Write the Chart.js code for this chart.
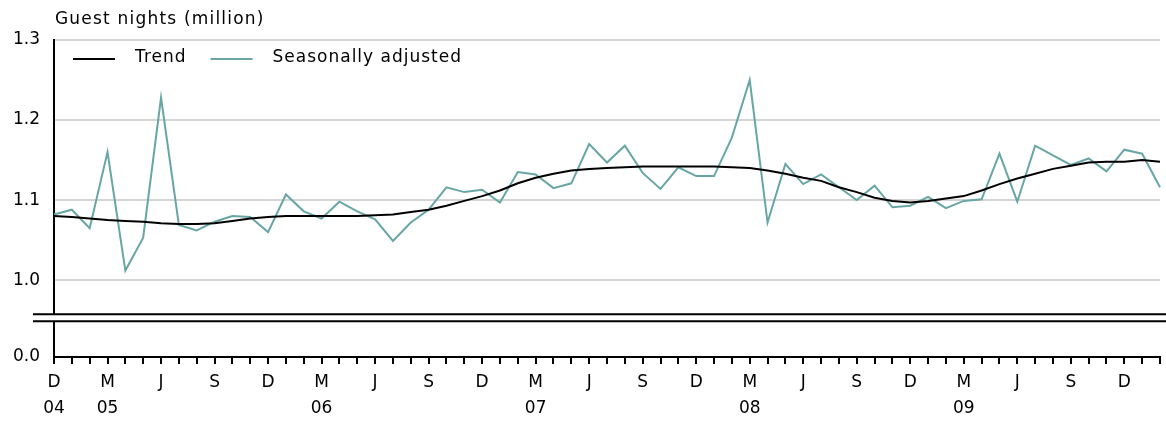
<!DOCTYPE html>
<html>
<head>
<meta charset="utf-8">
<script src="https://cdn.jsdelivr.net/npm/chart.js@4.4.1/dist/chart.umd.min.js"></script>
<style>
  body { margin: 0; background: #fff; }
  #wrap { width: 1166px; height: 421px; }
</style>
</head>
<body>
<div id="wrap"><canvas id="guests"></canvas></div>
<script>
const titleText = "Guest nights (million)";

const categories = [
  "2004-12",
  "2005-01", "2005-02", "2005-03", "2005-04", "2005-05", "2005-06", "2005-07", "2005-08", "2005-09", "2005-10", "2005-11", "2005-12",
  "2006-01", "2006-02", "2006-03", "2006-04", "2006-05", "2006-06", "2006-07", "2006-08", "2006-09", "2006-10", "2006-11", "2006-12",
  "2007-01", "2007-02", "2007-03", "2007-04", "2007-05", "2007-06", "2007-07", "2007-08", "2007-09", "2007-10", "2007-11", "2007-12",
  "2008-01", "2008-02", "2008-03", "2008-04", "2008-05", "2008-06", "2008-07", "2008-08", "2008-09", "2008-10", "2008-11", "2008-12",
  "2009-01", "2009-02", "2009-03", "2009-04", "2009-05", "2009-06", "2009-07", "2009-08", "2009-09", "2009-10", "2009-11", "2009-12",
  "2010-01", "2010-02"
];

const trend = [
  1.080, 1.079, 1.077, 1.075, 1.074, 1.073, 1.071, 1.070, 1.070, 1.071, 1.074, 1.077, 1.079, 1.080, 1.080, 1.080, 1.080, 1.080, 1.081, 1.082, 1.085,
  1.088, 1.093, 1.099, 1.105, 1.112, 1.121, 1.128, 1.133, 1.137, 1.139, 1.140, 1.141, 1.142, 1.142, 1.142, 1.142, 1.142, 1.141, 1.140, 1.137, 1.133,
  1.128, 1.124, 1.116, 1.110, 1.103, 1.099, 1.097, 1.099, 1.102, 1.105, 1.112, 1.120, 1.127, 1.133, 1.139, 1.143, 1.147, 1.148, 1.148, 1.150, 1.148
];

const seasonallyAdjusted = [
  1.082, 1.088, 1.065, 1.160, 1.012, 1.053, 1.228, 1.069, 1.062, 1.073, 1.080, 1.079, 1.060, 1.107, 1.086, 1.077, 1.098, 1.086, 1.076, 1.049, 1.072,
  1.088, 1.116, 1.110, 1.113, 1.097, 1.135, 1.132, 1.115, 1.121, 1.170, 1.147, 1.168, 1.134, 1.114, 1.141, 1.130, 1.130, 1.178, 1.250, 1.072, 1.145,
  1.120, 1.132, 1.116, 1.100, 1.118, 1.091, 1.093, 1.104, 1.090, 1.099, 1.101, 1.158, 1.098, 1.168, 1.156, 1.144, 1.152, 1.136, 1.163, 1.158, 1.116
];

// y axis: 1.0-1.3 shown, bottom of axis stands for 0.0 (broken axis)
const yTicks = [1.0, 1.1, 1.2, 1.3];
const yMin = 0.904, yMax = 1.3;
const breakHigh = 0.9575, breakLow = 0.94875;

const monthLetter = { "12": "D", "03": "M", "06": "J", "09": "S" };
const teal = "rgb(104,166,166)";
const font = { family: "DejaVu Sans", size: 17, lineHeight: 1.5 };

// title, legend inside the plot, and the axis break marks
const extras = {
  id: "extras",
  afterDraw(chart) {
    const { ctx, chartArea, scales } = chart;
    ctx.save();
    ctx.fillStyle = "#000";
    ctx.font = "17px 'DejaVu Sans'";
    ctx.textBaseline = "middle";
    ctx.letterSpacing = "1.2px";
    ctx.fillText(titleText, chartArea.left + 1, 20);

    // legend
    ctx.letterSpacing = "1px";
    let x = chartArea.left + 19;
    const ly = chartArea.top + 19;
    chart.data.datasets.forEach((ds) => {
      ctx.strokeStyle = ds.borderColor;
      ctx.lineWidth = 2;
      ctx.beginPath();
      ctx.moveTo(x, ly);
      ctx.lineTo(x + 42, ly);
      ctx.stroke();
      x += 42 + 20;
      ctx.fillText(ds.label, x, ly - 1);
      x += ctx.measureText(ds.label).width + 24;
    });

    // break
    const yTop = scales.y.getPixelForValue(breakHigh);
    const yBot = scales.y.getPixelForValue(breakLow);
    ctx.fillStyle = "#fff";
    ctx.fillRect(33, yTop, chart.width, yBot - yTop);
    ctx.strokeStyle = "#000";
    ctx.lineWidth = 2;
    ctx.beginPath();
    ctx.moveTo(33, yTop); ctx.lineTo(chart.width, yTop);
    ctx.moveTo(33, yBot); ctx.lineTo(chart.width, yBot);
    ctx.stroke();
    ctx.restore();
  }
};

new Chart(document.getElementById("guests"), {
  type: "line",
  data: {
    labels: categories,
    datasets: [
      {
        label: "Trend",
        data: trend,
        borderColor: "#000",
        borderWidth: 2,
        pointRadius: 0,
        tension: 0,
      },
      {
        label: "Seasonally adjusted",
        data: seasonallyAdjusted,
        borderColor: teal,
        borderWidth: 2,
        pointRadius: 0,
        tension: 0,
      }
    ]
  },
  options: {
    responsive: true,
    maintainAspectRatio: false,
    animation: false,
    layout: { padding: { top: 40, right: 2, left: 0, bottom: 0 } },
    plugins: {
      legend: { display: false },
      tooltip: { enabled: false },
    },
    scales: {
      x: {
        afterFit: (s) => { s.height = 64; },
        grid: { drawOnChartArea: false, drawTicks: true, tickLength: 7, color: "#000", lineWidth: 2 },
        border: { color: "#000", width: 2 },
        ticks: {
          autoSkip: false,
          maxRotation: 0,
          padding: 6,
          color: "#000",
          font: font,
          callback: (value, index) => {
            const [yr, m] = categories[index].split("-");
            const letter = monthLetter[m] || "";
            const year = (m === "03" || index === 0) ? yr.slice(2) : "";
            return [letter, year];
          }
        }
      },
      y: {
        min: yMin,
        max: yMax,
        afterBuildTicks: (s) => {
          s.ticks = [{ value: yMin }].concat(yTicks.map(v => ({ value: v })));
        },
        afterFit: (s) => { s.width = 54; },
        grid: {
          drawTicks: false,
          lineWidth: 2,
          color: (c) => c.tick && c.tick.value < 0.95 ? "rgba(0,0,0,0)" : "#d4d4d4",
        },
        border: { color: "#000", width: 2 },
        ticks: {
          padding: 14,
          color: "#000",
          font: font,
          callback: (v) => v < 0.95 ? "0.0" : v.toFixed(1)
        }
      }
    }
  },
  plugins: [extras]
});
</script>
</body>
</html>
